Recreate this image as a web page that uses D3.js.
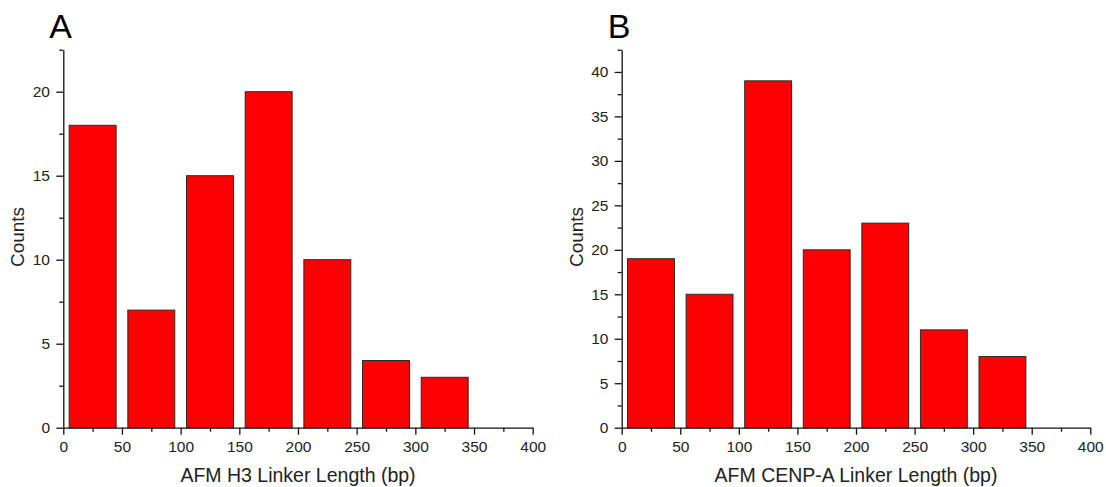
<!DOCTYPE html>
<html lang="en">
<head>
    <meta charset="UTF-8">
    <script src="https://d3js.org/d3.v7.min.js"></script>
    <title>AFM Linker Length Histograms</title>
    <style>
      body { margin: 0; background: #fff; }
      text { font-family: "Liberation Sans", Arial, sans-serif; }
    </style>
</head>
<body>
    <div id="chart"></div>
<script>
    // bins of 50 bp, from 0 to 350
    var binStarts = [0, 50, 100, 150, 200, 250, 300];
    var binWidth = 50;
    var h3Counts = [18, 7, 15, 20, 10, 4, 3];
    var cenpaCounts = [19, 15, 39, 20, 23, 11, 8];
    var xTicks = [0, 50, 100, 150, 200, 250, 300, 350, 400];

    var W = 1106, H = 487;

    var svg = d3.select("#chart")
      .append("svg")
        .attr("width", W)
        .attr("height", H);

    function drawPanel(opts) {
      var x = d3.scaleLinear()
        .domain([0, 400])
        .range([opts.left, opts.right]);
      var y = d3.scaleLinear()
        .domain([0, opts.ymax])
        .range([427.7, 49.7]);

      var g = svg.append("g");

      // bars
      g.selectAll("rect")
        .data(opts.counts)
        .enter()
        .append("rect")
          .attr("x", function (d, i) { return x(binStarts[i] + 5); })
          .attr("width", function (d, i) { return x(binStarts[i] + binWidth - 5) - x(binStarts[i] + 5); })
          .attr("y", function (d) { return y(d); })
          .attr("height", function (d) { return y(0) - y(d); })
          .style("fill", "#ff0000")
          .style("stroke", "#2a2a2a")
          .style("stroke-width", 1);

      // minor ticks
      var xMinor = d3.range(25, 400, 50);
      g.append("g")
        .attr("transform", "translate(0," + y(0) + ")")
        .call(d3.axisBottom(x).tickValues(xMinor).tickSize(4).tickFormat(""))
        .call(function (s) { s.select(".domain").remove(); });

      var yMinor = d3.range(2.5, opts.ymax + 0.1, 5);
      g.append("g")
        .attr("transform", "translate(" + x(0) + ",0)")
        .call(d3.axisLeft(y).tickValues(yMinor).tickSize(4).tickFormat(""))
        .call(function (s) { s.select(".domain").remove(); });

      // major axes
      var xAxis = g.append("g")
        .attr("transform", "translate(0," + y(0) + ")")
        .call(d3.axisBottom(x).tickValues(xTicks).tickSize(7).tickPadding(6.3).tickSizeOuter(0));

      var yAxis = g.append("g")
        .attr("transform", "translate(" + x(0) + ",0)")
        .call(d3.axisLeft(y).tickValues(opts.yTicks).tickSize(7).tickPadding(6.3).tickSizeOuter(0));

      [xAxis, yAxis].forEach(function (a) {
        a.selectAll("line").style("stroke", "#111").style("stroke-width", 1.3);
        a.select(".domain").style("stroke", "#111").style("stroke-width", 1.3);
        a.selectAll("text").style("font-size", "15.5px").style("fill", "#222")
          .style("font-family", "'Liberation Sans', Arial, sans-serif");
      });
      g.selectAll("line").style("stroke", "#111").style("stroke-width", 1.3);

      // axis titles
      g.append("text")
        .attr("x", (opts.left + opts.right) / 2)
        .attr("y", 482)
        .attr("text-anchor", "middle")
        .style("font-size", "19.5px")
        .style("fill", "#222")
        .text(opts.xlabel);

      g.append("text")
        .attr("transform", "translate(" + (opts.left - 39) + ",237) rotate(-90)")
        .attr("text-anchor", "middle")
        .style("font-size", "19px")
        .style("fill", "#222")
        .text("Counts");

      // panel letter
      g.append("text")
        .attr("x", opts.left - 14)
        .attr("y", 38)
        .style("font-size", "34px")
        .style("fill", "#000")
        .text(opts.letter);
    }

    drawPanel({
      left: 63.3, right: 532.7, ymax: 22.5,
      yTicks: [0, 5, 10, 15, 20],
      counts: h3Counts,
      xlabel: "AFM H3 Linker Length (bp)",
      letter: "A"
    });

    drawPanel({
      left: 621.7, right: 1090.3, ymax: 42.5,
      yTicks: [0, 5, 10, 15, 20, 25, 30, 35, 40],
      counts: cenpaCounts,
      xlabel: "AFM CENP-A Linker Length (bp)",
      letter: "B"
    });
</script>
</body>
</html>
